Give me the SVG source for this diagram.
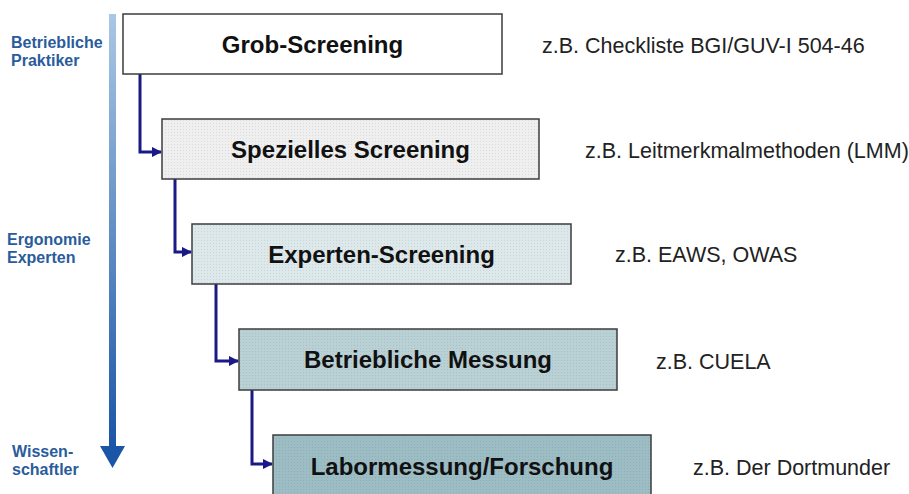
<svg xmlns="http://www.w3.org/2000/svg" width="909" height="494" viewBox="0 0 909 494">
<style>
.box{stroke:#3c3c3c;stroke-width:1.5}
.title{font-family:"Liberation Sans",Arial,sans-serif;font-weight:bold;font-size:24px;fill:#111;text-anchor:middle}
.ex{font-family:"Liberation Sans",Arial,sans-serif;font-size:21.5px;fill:#222}
.lbl{font-family:"Liberation Sans",Arial,sans-serif;font-weight:bold;font-size:16px;fill:#2a5c9c}
.conn{fill:none;stroke:#1a1a86;stroke-width:3}
</style>
<defs>
<linearGradient id="bar" x1="0" y1="0" x2="0" y2="1">
<stop offset="0" stop-color="#aac8e4"/>
<stop offset="1" stop-color="#1b55a6"/>
</linearGradient>
<pattern id="dots" width="3" height="3" patternUnits="userSpaceOnUse">
<rect x="0" y="0" width="1" height="1" fill="#000" fill-opacity="0.08"/>
</pattern>
<marker id="ah" viewBox="0 0 10 10" refX="9" refY="5" markerWidth="3.5" markerHeight="3.5" orient="auto" markerUnits="strokeWidth">
<path d="M0,0 L10,5 L0,10 z" fill="#1a1a86"/>
</marker>
</defs>
<rect width="909" height="494" fill="#fff"/>

<g id="scale-arrow">
<rect x="109" y="14" width="7" height="434" fill="url(#bar)"/>
<polygon points="100,446 125,446 112.5,468" fill="#1b55a6"/>
<text class="lbl" x="11" y="48">Betriebliche</text>
<text class="lbl" x="11" y="66">Praktiker</text>
<text class="lbl" x="7" y="245">Ergonomie</text>
<text class="lbl" x="7" y="263">Experten</text>
<text class="lbl" x="12" y="457">Wissen-</text>
<text class="lbl" x="12" y="475">schaftler</text>
</g>

<g id="connectors">
<path class="conn" d="M140,74 V152 H161" marker-end="url(#ah)"/>
<path class="conn" d="M175,179 V252 H191" marker-end="url(#ah)"/>
<path class="conn" d="M216,284 V361 H238" marker-end="url(#ah)"/>
<path class="conn" d="M252,390 V464 H272" marker-end="url(#ah)"/>
</g>

<g id="grob-screening">
<rect class="box" x="123" y="14" width="379" height="60" fill="#fff"/>
<text class="title" x="312.5" y="53">Grob-Screening</text>
</g>
<g id="spezielles-screening">
<rect class="box" x="162" y="119" width="377" height="60" fill="#efefef"/>
<rect x="163" y="120" width="375" height="58" fill="url(#dots)"/>
<text class="title" x="350.5" y="158">Spezielles Screening</text>
</g>
<g id="experten-screening">
<rect class="box" x="192" y="224" width="379" height="60" fill="#dde8eb"/>
<rect x="193" y="225" width="377" height="58" fill="url(#dots)"/>
<text class="title" x="381.5" y="263">Experten-Screening</text>
</g>
<g id="betriebliche-messung">
<rect class="box" x="239" y="329" width="378" height="61" fill="#b9d0d5"/>
<rect x="240" y="330" width="376" height="59" fill="url(#dots)"/>
<text class="title" x="428" y="368">Betriebliche Messung</text>
</g>
<g id="labormessung">
<rect class="box" x="273" y="435" width="378" height="64" fill="#9dbdc5"/>
<rect x="274" y="436" width="376" height="62" fill="url(#dots)"/>
<text class="title" x="462" y="475">Labormessung/Forschung</text>
</g>

<g id="examples">
<text class="ex" x="542" y="53">z.B. Checkliste BGI/GUV-I 504-46</text>
<text class="ex" x="585" y="158">z.B. Leitmerkmalmethoden (LMM)</text>
<text class="ex" x="615" y="262">z.B. EAWS, OWAS</text>
<text class="ex" x="656" y="369">z.B. CUELA</text>
<text class="ex" x="693" y="475">z.B. Der Dortmunder</text>
</g>
</svg>
